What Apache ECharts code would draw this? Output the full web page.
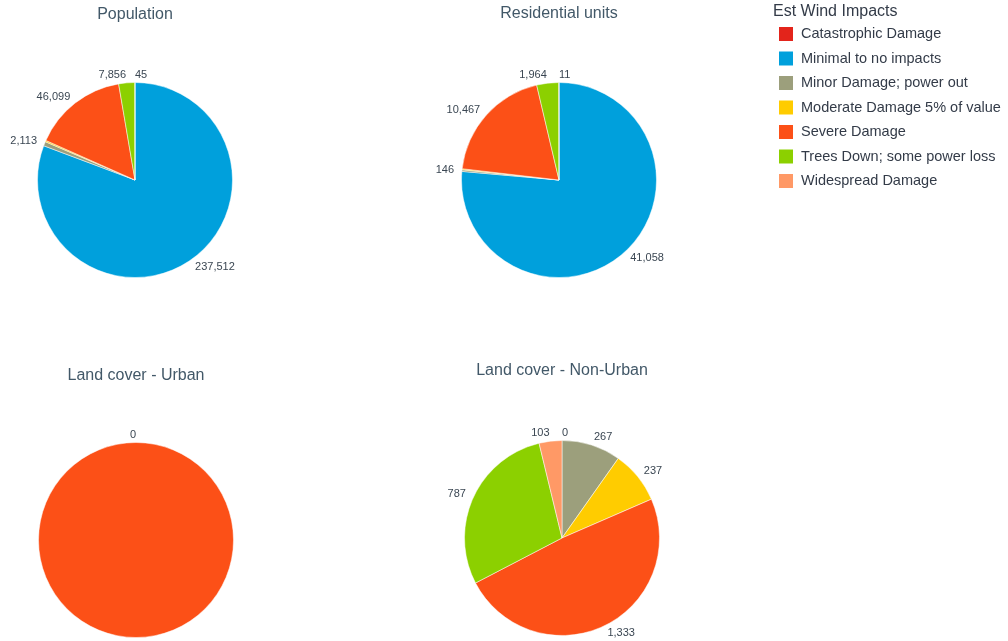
<!DOCTYPE html>
<html>
<head>
<meta charset="utf-8">
<script src="https://cdn.jsdelivr.net/npm/echarts@6/dist/echarts.min.js"></script>
<style>
html,body{margin:0;padding:0;background:#fff;}
#main{width:1008px;height:641px;}
</style>
</head>
<body>
<div id="main"></div>
<script>
// Categories (legend order)
const categories = [
  "Catastrophic Damage",
  "Minimal to no impacts",
  "Minor Damage; power out",
  "Moderate Damage 5% of value",
  "Severe Damage",
  "Trees Down; some power loss",
  "Widespread Damage"
];
const categoryColors = ["#e3241b", "#00a0dc", "#9c9f7c", "#ffcc00", "#fc5017", "#8cd000", "#ff9966"];

// Panel titles
const chartTitles = ["Population", "Residential units", "Land cover - Urban", "Land cover - Non-Urban"];
const legendTitle = "Est Wind Impacts";

// Series values per panel (categories present in each panel)
const populationNames = ["Minimal to no impacts", "Minor Damage; power out", "Moderate Damage 5% of value", "Severe Damage", "Trees Down; some power loss", "Widespread Damage"];
const populationValues = [237512, 2113, 650, 46099, 7856, 45];

const residentialNames = ["Minimal to no impacts", "Minor Damage; power out", "Moderate Damage 5% of value", "Severe Damage", "Trees Down; some power loss", "Widespread Damage"];
const residentialValues = [41058, 146, 90, 10467, 1964, 11];

const urbanNames = ["Severe Damage"];
const urbanValues = [0];

const nonUrbanNames = ["Catastrophic Damage", "Minor Damage; power out", "Moderate Damage 5% of value", "Severe Damage", "Trees Down; some power loss", "Widespread Damage"];
const nonUrbanValues = [0, 267, 237, 1333, 787, 103];

// Label styling choices (not data)
const labelStyle = [
  { hidden: ["Moderate Damage 5% of value"], leftAlign: ["Widespread Damage"] },
  { hidden: ["Moderate Damage 5% of value"], leftAlign: ["Widespread Damage"] },
  { hidden: [], leftAlign: [] },
  { hidden: [], leftAlign: ["Catastrophic Damage"] }
];

function colorOf(name) { return categoryColors[categories.indexOf(name)]; }
function buildData(names, values, hidden) {
  return names.map((n, i) => {
    const d = { name: n, value: values[i], itemStyle: { color: colorOf(n) } };
    if (hidden.indexOf(n) >= 0) d.label = { show: false };
    return d;
  });
}

const FONT = '"Liberation Sans", Arial, sans-serif';
const panels = [
  { names: populationNames, values: populationValues, center: [135, 180], title: [135, 7], start: 90 },
  { names: residentialNames, values: residentialValues, center: [559, 180], title: [559, 6], start: 90 },
  { names: urbanNames, values: urbanValues, center: [136, 540], title: [136, 368], start: -90 },
  { names: nonUrbanNames, values: nonUrbanValues, center: [562, 538], title: [562, 363], start: 90 }
];

const fmt = v => v.toLocaleString('en-US');

const option = {
  animation: false,
  backgroundColor: '#fff',
  title: panels.map((p, i) => ({
    text: chartTitles[i],
    left: p.title[0], top: p.title[1], textAlign: 'center', padding: 0,
    textStyle: { fontFamily: FONT, fontSize: 16, fontWeight: 'normal', color: '#425868' }
  })).concat([{
    text: legendTitle, left: 773, top: 4, padding: 0,
    textStyle: { fontFamily: FONT, fontSize: 16, fontWeight: 'normal', color: '#333b48' }
  }]),
  legend: {
    orient: 'vertical', left: 777, top: 25, padding: 0,
    icon: 'rect', itemWidth: 16, itemHeight: 16, itemGap: 6.5,
    selectedMode: false,
    data: categories,
    textStyle: { fontFamily: FONT, fontSize: 14.5, color: '#333b48', padding: [0, 0, 0, 2] }
  },
  series: panels.map((p, si) => ({
    type: 'pie',
    center: p.center,
    radius: 97.5,
    startAngle: p.start,
    clockwise: true,
    avoidLabelOverlap: false,
    stillShowZeroSum: true,
    showEmptyCircle: false,
    data: buildData(p.names, p.values, labelStyle[si].hidden),
    label: {
      show: true, position: 'outside',
      formatter: d => fmt(d.value),
      fontFamily: FONT, fontSize: 11, color: '#3a4652',
      distanceToLabelLine: 0
    },
    labelLine: { show: false, length: 8, length2: 0 },
    labelLayout: params => {
      const nm = p.names[params.dataIndex];
      if (labelStyle[si].leftAlign.indexOf(nm) >= 0) return { align: 'left', hideOverlap: false, moveOverlap: false };
      return { hideOverlap: false, moveOverlap: false };
    },
    itemStyle: { borderWidth: 0.5, borderColor: '#fff' },
    emphasis: { disabled: true }
  }))
};

const chart = echarts.init(document.getElementById('main'), null, { renderer: 'canvas' });
chart.setOption(option);
</script>
</body>
</html>
